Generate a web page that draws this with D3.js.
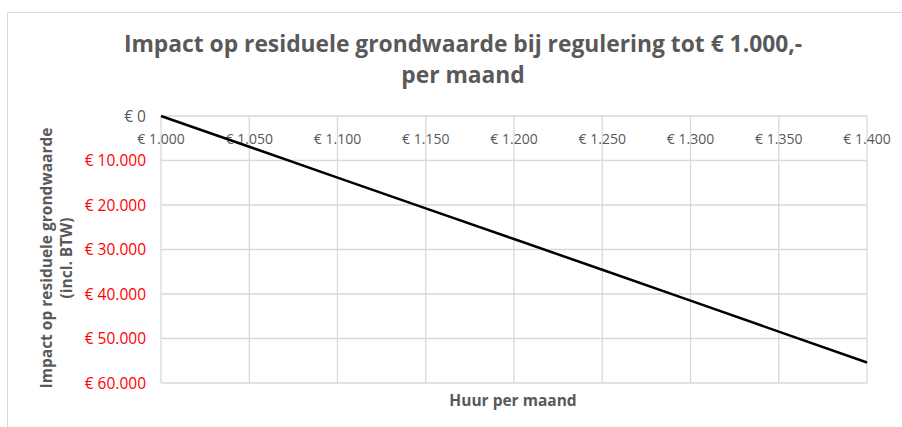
<!DOCTYPE html>
<html>
<head>
<meta charset="UTF-8">
<title>Impact op residuele grondwaarde</title>
<script src="https://d3js.org/d3.v7.min.js"></script>
<style>
  body { margin: 0; background: #fff; }
  text { font-family: "Open Sans", sans-serif; }
</style>
</head>
<body>
<div id="chart"></div>
<script type="text/javascript">
    // huur per maand (x) en impact op residuele grondwaarde (y)
    var huur = [1000, 1050, 1100, 1150, 1200, 1250, 1300, 1350, 1400];
    var impact = [0, 6900, 13850, 20750, 27650, 34550, 41500, 48450, 55400];
    var xTicks = [1000, 1050, 1100, 1150, 1200, 1250, 1300, 1350, 1400];
    var yTicks = [0, 10000, 20000, 30000, 40000, 50000, 60000];

    var width = 902, height = 427;
    var plotLeft = 161, plotRight = 867, plotTop = 116, plotBottom = 383;

    var svg = d3.select("#chart").append("svg")
        .attr("width", width)
        .attr("height", height);

    // chart frame
    svg.append("rect")
        .attr("x", 7.5).attr("y", 12.5)
        .attr("width", 920).attr("height", 440)
        .attr("fill", "none")
        .attr("stroke", "#d9d9d9");

    var fmt = function (v) {
        return "€ " + d3.format(",")(v).replace(/,/g, ".");
    };

    var x = d3.scaleLinear().domain([1000, 1400]).range([plotLeft, plotRight]);
    var y = d3.scaleLinear().domain([0, 60000]).range([plotTop, plotBottom]);

    // gridlines
    svg.append("g").selectAll("line").data(xTicks).enter().append("line")
        .attr("x1", function (d) { return x(d); })
        .attr("x2", function (d) { return x(d); })
        .attr("y1", plotTop).attr("y2", plotBottom)
        .attr("stroke", "#d9d9d9").attr("stroke-width", 1.3);
    svg.append("g").selectAll("line").data(yTicks).enter().append("line")
        .attr("x1", plotLeft).attr("x2", plotRight)
        .attr("y1", function (d) { return y(d); })
        .attr("y2", function (d) { return y(d); })
        .attr("stroke", "#d9d9d9").attr("stroke-width", 1.3);

    // x tick labels (under the top axis)
    svg.append("g").selectAll("text").data(xTicks).enter().append("text")
        .attr("x", function (d) { return x(d); })
        .attr("y", 144)
        .attr("text-anchor", "middle")
        .style("font-size", "14px")
        .style("fill", "#595959")
        .text(fmt);

    // y tick labels, negatives shown in red
    svg.append("g").selectAll("text").data(yTicks).enter().append("text")
        .attr("x", 146)
        .attr("y", function (d) { return y(d) + 5.5; })
        .attr("text-anchor", "end")
        .style("font-size", "15.5px")
        .style("fill", function (d) { return d === 0 ? "#595959" : "#ff0000"; })
        .text(fmt);

    // the line
    var line = d3.line()
        .x(function (d, i) { return x(huur[i]); })
        .y(function (d) { return y(d); });
    svg.append("path")
        .datum(impact)
        .attr("d", line)
        .attr("fill", "none")
        .attr("stroke", "#000")
        .attr("stroke-width", 2.5);

    // title
    svg.selectAll("title_text")
        .data(["Impact op residuele grondwaarde bij regulering tot € 1.000,-", "per maand"])
        .enter().append("text")
        .attr("x", 463)
        .attr("y", function (d, i) { return 52 + i * 31; })
        .attr("text-anchor", "middle")
        .style("font-size", "22.8px")
        .style("font-weight", "bold")
        .style("fill", "#595959")
        .text(function (d) { return d; });

    // axis titles
    svg.append("text")
        .attr("x", 513).attr("y", 406)
        .attr("text-anchor", "middle")
        .style("font-size", "15.5px")
        .style("font-weight", "bold")
        .style("fill", "#595959")
        .text("Huur per maand");

    svg.selectAll("ytitle")
        .data(["Impact op residuele grondwaarde", "(incl. BTW)"])
        .enter().append("text")
        .attr("transform", function (d, i) { return "translate(" + (52 + i * 20) + ",258) rotate(-90)"; })
        .attr("text-anchor", "middle")
        .style("font-size", "15.5px")
        .style("font-weight", "bold")
        .style("fill", "#595959")
        .text(function (d) { return d; });
</script>
</body>
</html>
